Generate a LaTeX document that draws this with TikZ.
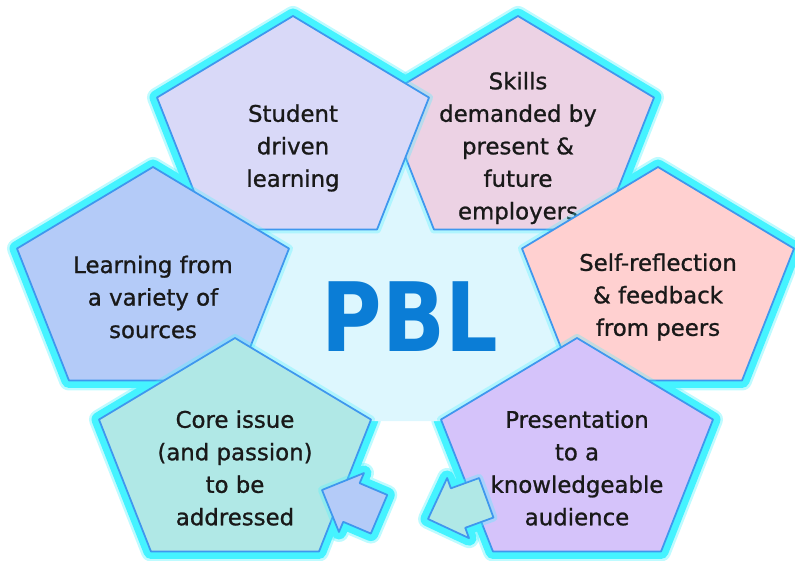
\documentclass[tikz,border=0pt]{standalone}
\usepackage{fontspec}
\setmainfont{DejaVu Sans}
\newfontfamily\boxfont[FakeBold=1]{DejaVu Sans}
\usetikzlibrary{positioning}

\definecolor{glowcyan}{HTML}{45F3FF}
\definecolor{edgeblue}{HTML}{3F97EE}
\definecolor{hubfill}{HTML}{DDF7FE}
\definecolor{lavfill}{HTML}{D9D9F8}
\definecolor{pinkfill}{HTML}{ECD2E4}
\definecolor{bluefill}{HTML}{B4CBF8}
\definecolor{salmonfill}{HTML}{FFD0D0}
\definecolor{tealfill}{HTML}{B0E8E6}
\definecolor{violetfill}{HTML}{D5C3FA}
\definecolor{pblblue}{HTML}{0B7DD6}

\begin{document}
\begin{tikzpicture}[
  x=0.02cm, y=-0.02cm,
  line join=round,
  softglow/.style={draw=glowcyan, line width=0.40cm, opacity=0.35},
  glow/.style={draw=glowcyan, line width=0.30cm},
  halo/.style={draw=glowcyan, line width=0.16cm, opacity=0.3},
  rim/.style={draw=edgeblue, line width=1pt},
  caption/.style={align=center, font=\boxfont\fontsize{13}{18.5}\selectfont, text=black!90, inner sep=0pt},
  pbl/.style={font=\fontsize{50}{50}\selectfont\bfseries, text=pblblue},
  pentagon/.pic={
    \path[pic actions] (-90:143 and 118) -- (-18:143 and 118) -- (54:143 and 118)
      -- (126:143 and 118) -- (198:143 and 118) -- cycle;
  },
  blockarrow/.pic={
    \path[pic actions] (0,0) -- (32,-32) -- (32,-21) -- (62,-21)
      -- (62,21) -- (32,21) -- (32,32) -- cycle;
  }
]
\useasboundingbox (0,0) rectangle (795,561);

% outer glow round the whole cluster
\foreach \cx/\cy in {518/134, 293/134, 153/285, 658/285, 235/456, 577/456} {
  \pic[softglow] at (\cx,\cy) {pentagon};
  \pic[glow] at (\cx,\cy) {pentagon};
}
\pic[softglow, rotate=-23] at (322,490) {blockarrow};
\pic[glow, rotate=-23] at (322,490) {blockarrow};
\pic[softglow, rotate=20] at (428,519) {blockarrow};
\pic[glow, rotate=20] at (428,519) {blockarrow};

% hub behind the pentagons
\fill[hubfill] (255,225) -- (405,150) -- (555,235) -- (565,350)
  -- (440,421) -- (372,421) -- (245,350) -- cycle;

% pentagons, back to front
\pic[halo] at (518,134) {pentagon};
\pic[fill=pinkfill, rim] at (518,134) {pentagon};
\node[caption] (skills) at (518,148) {Skills\\demanded by\\present \&\\future\\employers};

\pic[halo] at (293,134) {pentagon};
\pic[fill=lavfill, rim] at (293,134) {pentagon};
\node[caption] (student) at (293,148) {Student\\driven\\learning};

\pic[halo] at (153,285) {pentagon};
\pic[fill=bluefill, rim] at (153,285) {pentagon};
\node[caption] (sources) at (153,297) {Learning from\\a variety of\\sources};

\pic[halo] at (658,285) {pentagon};
\pic[fill=salmonfill, rim] at (658,285) {pentagon};
\node[caption] (reflect) at (658,297) {Self-reflection\\\& feedback\\from peers};

\pic[halo] at (235,456) {pentagon};
\pic[fill=tealfill, rim] at (235,456) {pentagon};
\node[caption] (issue) at (235,468) {Core issue\\(and passion)\\to be\\addressed};

\pic[halo] at (577,456) {pentagon};
\pic[fill=violetfill, rim] at (577,456) {pentagon};
\node[caption] (audience) at (577,468) {Presentation\\to a\\knowledgeable\\audience};

% the two small block arrows
\pic[halo, rotate=-23] at (322,490) {blockarrow};
\pic[fill=bluefill, rim, rotate=-23] at (322,490) {blockarrow};
\pic[halo, rotate=20] at (428,519) {blockarrow};
\pic[fill=tealfill, rim, rotate=20] at (428,519) {blockarrow};

\node[pbl] (pblmark) at (410,317) {\scalebox{0.94}[1.09]{PBL}};
\end{tikzpicture}
\end{document}
